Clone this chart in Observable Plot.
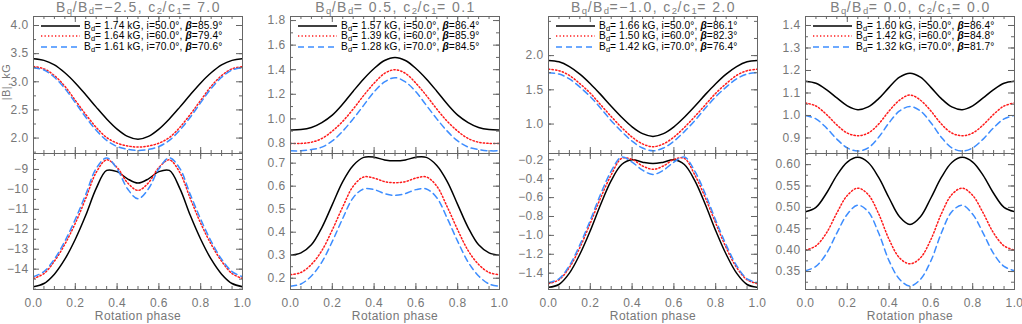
<!DOCTYPE html>
<html><head><meta charset="utf-8">
<script src="https://cdn.jsdelivr.net/npm/d3@7"></script>
<script src="https://cdn.jsdelivr.net/npm/@observablehq/plot@0.6"></script>
<style>
body{margin:0;background:#fff;}
#root{position:relative;width:1022px;height:324px;overflow:hidden;font-family:"Liberation Sans",Arial,Helvetica,sans-serif;}
.plot{position:absolute;}
.title{position:absolute;top:0px;font-size:14px;line-height:15px;color:#808080;white-space:nowrap;transform:translateX(-50%);letter-spacing:1.45px;}
.title sub{font-size:9.5px;vertical-align:-2px;line-height:0;letter-spacing:0.5px;}
.leg{position:absolute;font-size:10.2px;color:#000;white-space:nowrap;line-height:10px;transform:translateY(-50%);letter-spacing:0.12px;}
.leg sub{font-size:7.5px;vertical-align:-2px;line-height:0;letter-spacing:0;}
.legline{position:absolute;}
.ylab{position:absolute;font-size:11px;color:#777;white-space:nowrap;transform:translate(-50%,-50%) rotate(-90deg);letter-spacing:0.5px;}
</style></head><body><div id="root"></div>
<script>
// ---------- data ----------
const phase = [0,0.05,0.1,0.15,0.2,0.25,0.3,0.35,0.4,0.45,0.5,0.55,0.6,0.65,0.7,0.75,0.8,0.85,0.9,0.95,1];

// column 1 : Bq/Bd=-2.5, c2/c1=7.0
const c1TopBlack = [3.41,3.38,3.30,3.16,2.98,2.77,2.55,2.34,2.16,2.03,1.98,2.03,2.16,2.34,2.55,2.77,2.98,3.16,3.30,3.38,3.41];
const c1TopRed   = [3.27,3.23,3.11,2.92,2.67,2.42,2.19,2.01,1.91,1.86,1.84,1.86,1.91,2.01,2.19,2.42,2.67,2.92,3.11,3.23,3.27];
const c1TopBlue  = [3.25,3.21,3.08,2.88,2.63,2.37,2.14,1.96,1.85,1.80,1.78,1.80,1.85,1.96,2.14,2.37,2.63,2.88,3.08,3.21,3.25];
const c1BotBlack = [-14.88,-14.72,-14.25,-13.50,-12.50,-11.30,-9.95,-9.05,-9.11,-9.47,-9.68,-9.47,-9.11,-9.05,-9.95,-11.30,-12.50,-13.50,-14.25,-14.72,-14.88];
const c1BotRed   = [-14.47,-14.22,-13.60,-12.75,-11.70,-10.45,-9.15,-8.52,-8.90,-9.67,-10.05,-9.67,-8.90,-8.52,-9.15,-10.45,-11.70,-12.75,-13.60,-14.22,-14.47];
const c1BotBlue  = [-14.38,-14.12,-13.50,-12.60,-11.50,-10.25,-8.95,-8.42,-8.97,-9.97,-10.47,-9.97,-8.97,-8.42,-8.95,-10.25,-11.50,-12.60,-13.50,-14.12,-14.38];

// column 2 : Bq/Bd=0.5, c2/c1=0.1
const c2TopBlack = [0.91,0.913,0.93,0.97,1.03,1.12,1.225,1.325,1.41,1.475,1.50,1.475,1.41,1.325,1.225,1.12,1.03,0.97,0.93,0.913,0.91];
const c2TopRed   = [0.80,0.80,0.81,0.84,0.90,0.98,1.08,1.19,1.29,1.37,1.40,1.37,1.29,1.19,1.08,0.98,0.90,0.84,0.81,0.80,0.80];
const c2TopBlue  = [0.74,0.74,0.75,0.77,0.82,0.90,1.00,1.11,1.22,1.30,1.335,1.30,1.22,1.11,1.00,0.90,0.82,0.77,0.75,0.74,0.74];
const c2BotBlack = [0.30,0.31,0.345,0.42,0.52,0.62,0.69,0.725,0.726,0.714,0.71,0.714,0.726,0.725,0.69,0.62,0.52,0.42,0.345,0.31,0.30];
const c2BotRed   = [0.215,0.225,0.26,0.32,0.41,0.51,0.60,0.64,0.635,0.62,0.615,0.62,0.635,0.64,0.60,0.51,0.41,0.32,0.26,0.225,0.215];
const c2BotBlue  = [0.165,0.175,0.21,0.27,0.36,0.46,0.55,0.588,0.585,0.568,0.56,0.568,0.585,0.588,0.55,0.46,0.36,0.27,0.21,0.175,0.165];

// column 3 : Bq/Bd=-1.0, c2/c1=2.0
const c3TopBlack = [1.93,1.91,1.84,1.73,1.59,1.43,1.26,1.10,0.96,0.86,0.82,0.86,0.96,1.10,1.26,1.43,1.59,1.73,1.84,1.91,1.93];
const c3TopRed   = [1.80,1.78,1.71,1.59,1.45,1.28,1.11,0.95,0.81,0.71,0.67,0.71,0.81,0.95,1.11,1.28,1.45,1.59,1.71,1.78,1.80];
const c3TopBlue  = [1.75,1.73,1.66,1.54,1.40,1.23,1.05,0.89,0.75,0.65,0.61,0.65,0.75,0.89,1.05,1.23,1.40,1.54,1.66,1.73,1.75];
const c3BotBlack = [-1.55,-1.52,-1.40,-1.20,-0.95,-0.67,-0.42,-0.25,-0.20,-0.225,-0.24,-0.225,-0.20,-0.25,-0.42,-0.67,-0.95,-1.20,-1.40,-1.52,-1.55];
const c3BotRed   = [-1.51,-1.47,-1.34,-1.13,-0.87,-0.60,-0.36,-0.185,-0.195,-0.265,-0.30,-0.265,-0.195,-0.185,-0.36,-0.60,-0.87,-1.13,-1.34,-1.47,-1.51];
const c3BotBlue  = [-1.50,-1.46,-1.32,-1.10,-0.84,-0.56,-0.32,-0.17,-0.225,-0.31,-0.355,-0.31,-0.225,-0.17,-0.32,-0.56,-0.84,-1.10,-1.32,-1.46,-1.50];

// column 4 : Bq/Bd=0.0, c2/c1=0.0
const c4TopBlack = [1.152,1.143,1.115,1.078,1.043,1.026,1.038,1.075,1.125,1.170,1.188,1.170,1.125,1.075,1.038,1.026,1.043,1.078,1.115,1.143,1.152];
const c4TopRed   = [1.056,1.042,1.005,0.958,0.922,0.910,0.922,0.962,1.020,1.068,1.091,1.068,1.020,0.962,0.922,0.910,0.922,0.958,1.005,1.042,1.056];
const c4TopBlue  = [1.000,0.985,0.945,0.895,0.856,0.842,0.856,0.903,0.968,1.020,1.040,1.020,0.968,0.903,0.856,0.842,0.856,0.895,0.945,0.985,1.000];
const c4BotBlack = [0.490,0.500,0.533,0.575,0.606,0.617,0.605,0.570,0.522,0.478,0.460,0.478,0.522,0.570,0.605,0.617,0.606,0.575,0.533,0.500,0.490];
const c4BotRed   = [0.400,0.410,0.440,0.487,0.528,0.545,0.530,0.485,0.425,0.382,0.368,0.382,0.425,0.485,0.530,0.545,0.528,0.487,0.440,0.410,0.400];
const c4BotBlue  = [0.352,0.362,0.392,0.440,0.484,0.505,0.490,0.440,0.375,0.332,0.316,0.332,0.375,0.440,0.490,0.505,0.484,0.440,0.392,0.362,0.352];

// titles & legends
const titleBqBd = ["\u22122.5", " 0.5", "\u22121.0", " 0.0"];
const titleC2C1 = [" 7.0", " 0.1", " 2.0", " 0.0"];
const legendBd   = [[1.74,1.64,1.61],[1.57,1.39,1.28],[1.66,1.50,1.42],[1.60,1.42,1.32]];
const legendIncl = [50.0, 60.0, 70.0];
const legendBeta = [[85.9,79.4,70.6],[86.4,85.9,84.5],[86.1,82.3,76.4],[86.4,84.8,81.7]];

// axis tick values
const xMajor = [0,0.2,0.4,0.6,0.8,1.0];
const yTopMajor = [[2.0,2.5,3.0,3.5,4.0],[0.8,1.0,1.2,1.4,1.6,1.8],[1.0,1.5,2.0],[0.9,1.0,1.1,1.2,1.3,1.4]];
const yTopMinorStep = [0.25,0.1,0.25,0.05];
const yBotMajor = [[-14,-13,-12,-11,-10,-9],[0.2,0.3,0.4,0.5,0.6,0.7],[-1.4,-1.2,-1.0,-0.8,-0.6,-0.4,-0.2],[0.35,0.40,0.45,0.50,0.55,0.60]];
const yBotMinorStep = [0.5,0.05,0.1,0.025];
const yTopFormat = [".1f",".1f",".1f",".1f"];
const yBotFormat = ["d",".1f",".1f",".2f"];

const yTopDomain = [[1.726,4.16],[0.718,1.833],[0.57,2.571],[0.831,1.44]];
const yBotDomain = [[-15.02,-8.2],[0.151,0.742],[-1.573,-0.133],[0.308,0.626]];

const topSeries = [[c1TopBlack,c1TopRed,c1TopBlue],[c2TopBlack,c2TopRed,c2TopBlue],[c3TopBlack,c3TopRed,c3TopBlue],[c4TopBlack,c4TopRed,c4TopBlue]];
const botSeries = [[c1BotBlack,c1BotRed,c1BotBlue],[c2BotBlack,c2BotRed,c2BotBlue],[c3BotBlack,c3BotRed,c3BotBlue],[c4BotBlack,c4BotRed,c4BotBlue]];

// ---------- layout / style ----------
const colLeft = [33, 290, 548, 805];
const innerW = 209;
const mL = 40, mR = 12;
const topY = 16, midY = 153, botY = 289;
const frameColor = "#666", labelColor = "#777";
const styles = [
  {stroke:"#000000", strokeWidth:1.5, strokeDasharray:null},
  {stroke:"#ff1a1a", strokeWidth:1.5, strokeDasharray:"1.3,2.2"},
  {stroke:"#3d8dff", strokeWidth:1.5, strokeDasharray:"6,4"}
];

const root = document.getElementById("root");

function minorTicks(domain, step) {
  const lo = Math.ceil(domain[0]/step - 1e-9), hi = Math.floor(domain[1]/step + 1e-9);
  return d3.range(lo, hi + 1).map(k => +(k*step).toFixed(6));
}

function panel(col, isTop) {
  const domain = isTop ? yTopDomain[col] : yBotDomain[col];
  const series = isTop ? topSeries[col] : botSeries[col];
  const major = isTop ? yTopMajor[col] : yBotMajor[col];
  const minor = minorTicks(domain, isTop ? yTopMinorStep[col] : yBotMinorStep[col]);
  const fmt = d3.format(isTop ? yTopFormat[col] : yBotFormat[col]);
  const mT = isTop ? topY : 0;
  const mB = isTop ? 0 : 35;
  const innerH = isTop ? midY - topY : botY - midY;
  const height = innerH + mT + mB;
  const xMinor = d3.range(0, 21).map(k => k*0.05);
  const marks = [];
  series.forEach((vals, s) => {
    const rows = phase.map((p, i) => ({phase: p, value: vals[i]}));
    marks.push(Plot.line(rows, {x: "phase", y: "value", curve: "catmull-rom", clip: true, ...styles[s]}));
  });
  marks.push(
    Plot.frame({stroke: frameColor, strokeWidth: 1}),
    Plot.tickY(minor, {y: d => d, insetRight: innerW - 3, stroke: frameColor}),
    Plot.tickY(minor, {y: d => d, insetLeft: innerW - 3, stroke: frameColor}),
    Plot.tickY(major, {y: d => d, insetRight: innerW - 6, stroke: frameColor}),
    Plot.tickY(major, {y: d => d, insetLeft: innerW - 6, stroke: frameColor}),
    Plot.tickX(xMinor, {x: d => d, insetTop: innerH - 3, stroke: frameColor}),
    Plot.tickX(xMinor, {x: d => d, insetBottom: innerH - 3, stroke: frameColor}),
    Plot.tickX(xMajor, {x: d => d, insetTop: innerH - 6, stroke: frameColor}),
    Plot.tickX(xMajor, {x: d => d, insetBottom: innerH - 6, stroke: frameColor}),
    Plot.axisY({ticks: major, tickSize: 0, tickPadding: 5, tickFormat: fmt, color: labelColor, fontSize: 12, label: null})
  );
  if (!isTop) {
    marks.push(
      Plot.axisX({ticks: xMajor, tickSize: 0, tickPadding: 9, tickFormat: d3.format(".1f"), color: labelColor, fontSize: 12, label: null}),
      Plot.text(["Rotation phase"], {frameAnchor: "bottom", dy: 27, lineAnchor: "middle", fill: labelColor, fontSize: 12})
    );
  }
  const svg = Plot.plot({
    width: innerW + mL + mR, height,
    marginLeft: mL, marginRight: mR, marginTop: mT, marginBottom: mB,
    x: {domain: [0, 1], axis: isTop ? null : undefined},
    y: {domain},
    style: {fontFamily: '"Liberation Sans", Arial, sans-serif', fontSize: "12px", background: "transparent", overflow: "visible", letterSpacing: "0.4px"},
    marks
  });
  svg.classList.add("plot");
  svg.style.left = (colLeft[col] - mL) + "px";
  svg.style.top = (isTop ? 0 : midY) + "px";
  root.appendChild(svg);
}

for (let c = 0; c < 4; c++) {
  panel(c, true);
  panel(c, false);
  // title
  const t = document.createElement("div");
  t.className = "title";
  t.style.left = (colLeft[c] + innerW/2 + 1) + "px";
  t.innerHTML = `B<sub>q</sub>/B<sub>d</sub>=${titleBqBd[c]}, c<sub>2</sub>/c<sub>1</sub>=${titleC2C1[c]}`;
  root.appendChild(t);
  // legend
  const rowY = [26, 36.3, 46.6];
  for (let r = 0; r < 3; r++) {
    const ns = "http://www.w3.org/2000/svg";
    const ls = document.createElementNS(ns, "svg");
    ls.setAttribute("width", 40); ls.setAttribute("height", 6);
    ls.setAttribute("class", "legline");
    ls.style.left = (colLeft[c] + 8) + "px";
    ls.style.top = (rowY[r] - 3) + "px";
    const ln = document.createElementNS(ns, "line");
    ln.setAttribute("x1", 0); ln.setAttribute("x2", 39); ln.setAttribute("y1", 3); ln.setAttribute("y2", 3);
    ln.setAttribute("stroke", styles[r].stroke); ln.setAttribute("stroke-width", styles[r].strokeWidth);
    if (styles[r].strokeDasharray) ln.setAttribute("stroke-dasharray", styles[r].strokeDasharray);
    ls.appendChild(ln);
    root.appendChild(ls);
    const lt = document.createElement("div");
    lt.className = "leg";
    lt.style.left = (colLeft[c] + 51) + "px";
    lt.style.top = rowY[r] + "px";
    lt.innerHTML = `B<sub>d</sub>= ${legendBd[c][r].toFixed(2)} kG, i=${legendIncl[r].toFixed(1)}\u00b0, <b><i>\u03b2</i></b>=${legendBeta[c][r].toFixed(1)}\u00b0`;
    root.appendChild(lt);
  }
}
// y-axis title at the far left
const yl = document.createElement("div");
yl.className = "ylab";
yl.style.left = "6px"; yl.style.top = "82px";
yl.textContent = "|B|, kG";
root.appendChild(yl);
</script></body></html>
